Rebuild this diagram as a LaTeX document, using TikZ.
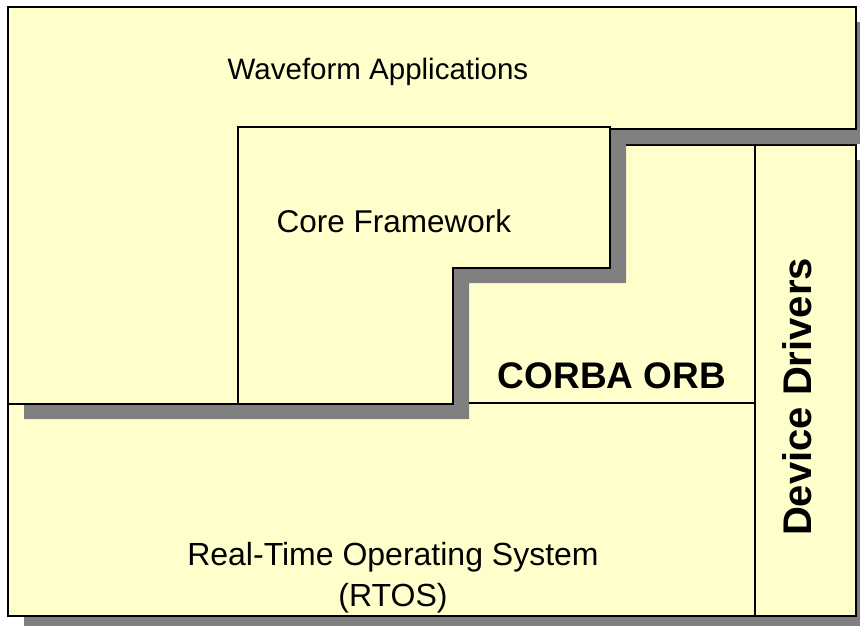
\documentclass[tikz,border=0pt]{standalone}
\usepackage{fontspec}
\setmainfont{Liberation Sans}
\definecolor{layerfill}{HTML}{FFFFCC}
\definecolor{shadowgray}{HTML}{808080}
\begin{document}
\begin{tikzpicture}[x=1pt,y=-1pt,
  layer/.style={fill=layerfill,draw=black,line width=1.3pt,line join=miter},
  edge/.style={draw=black,line width=1.2pt},
  drop/.style={fill=shadowgray,draw=none},
  plain/.style={font=\fontsize{31.5}{36}\selectfont,inner sep=0pt,align=center},
  heavy/.style={font=\bfseries\fontsize{37}{42}\selectfont,inner sep=0pt}]
\useasboundingbox (0,0) rectangle (860,625);
\fill[white] (0,0) rectangle (860,625);
\clip (0,0) rectangle (860,625);

% lower platform block: RTOS, CORBA ORB, device drivers
\path[drop] (24,160) rectangle (872,632);
\path[layer] (8,145) rectangle (856,616);
\draw[edge] (755,145) -- (755,616);
\draw[edge] (453,403) -- (755,403);

% shadow of the application / framework layer
\path[drop] (24,22) -- (872,22) -- (872,144) -- (626,144) -- (626,283)
  -- (469,283) -- (469,419) -- (24,419) -- cycle;

% waveform applications layer
\path[fill=layerfill] (8,7) -- (856,7) -- (856,129) -- (610,129) -- (610,268)
  -- (453,268) -- (453,404) -- (8,404) -- cycle;
\draw[edge,line width=1.5pt] (238,129) -- (856,129) -- (856,7) -- (8,7) -- (8,404) -- (238,404);

% core framework step
\path[layer] (238,127) -- (610,127) -- (610,268) -- (453,268) -- (453,404)
  -- (238,404) -- cycle;

\node[plain,font=\fontsize{29.5}{34}\selectfont] (wfa) at (378,72) {Waveform Applications};
\node[plain] (cf) at (394,221) {Core Framework};
\node[heavy] (orb) at (612,376) {CORBA ORB};
\node[heavy,rotate=90,font=\bfseries\fontsize{40}{44}\selectfont] (dd) at (797,397) {Device Drivers};
\node[plain,font=\fontsize{32}{36}\selectfont] (rtos) at (393,557) {Real-Time Operating System};
\node[plain,font=\fontsize{32}{36}\selectfont] (rtosabbr) at (393,598) {(RTOS)};
\end{tikzpicture}
\end{document}
